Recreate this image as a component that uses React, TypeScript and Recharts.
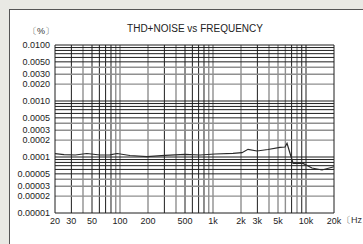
import { LineChart, Line, XAxis, YAxis, ReferenceLine } from "recharts";

const freqs = [
  20, 25, 33, 44, 61, 78, 93, 128, 195, 305, 500, 725, 1050, 1640, 2050, 2380,
  2970, 3900, 5250, 5950, 6250, 7250, 9290, 11600, 14860, 20000,
];
const thdn = [
  1.146e-4, 1.1e-4, 1.086e-4, 1.155e-4, 1.086e-4, 1.09e-4, 1.155e-4, 1.064e-4,
  1.012e-4, 1.073e-4, 1.117e-4, 1.086e-4, 1.132e-4, 1.164e-4, 1.194e-4,
  1.372e-4, 1.28e-4, 1.36e-4, 1.49e-4, 1.51e-4, 1.757e-4, 7.72e-5, 7.69e-5,
  6.37e-5, 5.86e-5, 6.71e-5,
];

const xTicks = [20, 30, 50, 100, 200, 500, 1000, 2000, 3000, 5000, 10000, 20000];
const xTickLabels = ["20", "30", "50", "100", "200", "500", "1k", "2k", "3k", "5k", "10k", "20k"];

const yTicks = [
  0.01, 0.005, 0.003, 0.002, 0.001, 0.0005, 0.0003, 0.0002, 0.0001, 0.00005,
  0.00003, 0.00002, 0.00001,
];
const yTickLabels = [
  "0.0100", "0.0050", "0.0030", "0.0020", "0.0010", "0.0005", "0.0003",
  "0.0002", "0.0001", "0.00005", "0.00003", "0.00002", "0.00001",
];

// grid lines: [value, gray?]
const xGrid: [number, boolean][] = [
  [30, false], [40, true], [50, false], [60, false], [70, false], [80, false], [90, true],
  [100, true], [200, true], [300, false], [400, true], [500, false], [600, false], [700, false], [800, false], [900, true],
  [1000, true], [2000, true], [3000, false], [4000, true], [5000, true], [6000, true], [7000, false], [8000, true], [9000, false],
  [10000, false],
];
const yGrid: [number, boolean][] = [
  [0.009, false], [0.008, false], [0.007, false], [0.006, false], [0.005, false], [0.004, true], [0.003, true], [0.002, true],
  [0.001, false], [0.0009, false], [0.0008, false], [0.0007, false], [0.0006, false], [0.0005, false], [0.0004, true], [0.0003, true], [0.0002, true],
  [0.0001, false], [0.00009, false], [0.00008, false], [0.00007, false], [0.00006, false], [0.00005, false], [0.00004, true], [0.00003, true], [0.00002, true],
];

const data = freqs.map((f, i) => ({ f, v: thdn[i] }));

const font = "'Liberation Sans', Arial, sans-serif";
const tick = { fontSize: 9, fill: "#222", fontFamily: font };

export default function App() {
  return (
    <div
      style={{
        position: "fixed",
        left: 0,
        top: 0,
        width: 363,
        height: 244,
        background: "#e9e9e4",
        overflow: "hidden",
        fontFamily: font,
      }}
    >
      <div
        style={{
          position: "absolute",
          left: 9,
          top: 9,
          width: 400,
          height: 300,
          background: "#fff",
          borderLeft: "1px solid #555",
          borderTop: "1px solid #555",
        }}
      />
      <div style={{ position: "absolute", left: 0, top: 0 }}>
        <LineChart
          width={363}
          height={244}
          data={data}
          margin={{ top: 45, right: 29, bottom: 11, left: 5 }}
        >
          {xGrid.map(([x, g]) => (
            <ReferenceLine
              key={"x" + x}
              x={x}
              stroke={g ? "#8f8f8f" : "#1e1e1e"}
              strokeWidth={g ? 1.4 : 1}
            />
          ))}
          {yGrid.map(([y, g]) => (
            <ReferenceLine
              key={"y" + y}
              y={y}
              stroke={g ? "#8f8f8f" : "#1e1e1e"}
              strokeWidth={g ? 1.4 : 1}
            />
          ))}
          <ReferenceLine y={0.01} stroke="#1e1e1e" />
          <ReferenceLine x={20000} stroke="#1e1e1e" />
          <XAxis
            dataKey="f"
            type="number"
            scale="log"
            domain={[20, 20000]}
            ticks={xTicks}
            tickFormatter={(v: number) => xTickLabels[xTicks.indexOf(v)] ?? ""}
            interval={0}
            allowDataOverflow
            height={20}
            tickSize={0}
            tickMargin={5}
            tick={tick}
            axisLine={{ stroke: "#1e1e1e" }}
          />
          <YAxis
            type="number"
            scale="log"
            domain={[0.00001, 0.01]}
            ticks={yTicks}
            tickFormatter={(v: number) => yTickLabels[yTicks.indexOf(v)] ?? ""}
            interval={0}
            allowDataOverflow
            width={50}
            tickSize={0}
            tickMargin={5}
            tick={tick}
            axisLine={{ stroke: "#1e1e1e" }}
          />
          <Line
            dataKey="v"
            type="linear"
            stroke="#2a2a2a"
            strokeWidth={1.2}
            dot={false}
            isAnimationActive={false}
          />
        </LineChart>
      </div>
      <div
        style={{
          position: "absolute",
          left: 0,
          width: 390,
          top: 23,
          textAlign: "center",
          fontSize: 10,
          color: "#222",
          lineHeight: "12px",
        }}
      >
        THD+NOISE vs FREQUENCY
      </div>
      <div style={{ position: "absolute", left: 28, top: 26, fontSize: 9, color: "#333", lineHeight: "11px" }}>
        〔%〕
      </div>
      <div style={{ position: "absolute", left: 342, top: 215, fontSize: 9, color: "#333", lineHeight: "11px", whiteSpace: "nowrap" }}>
        〔Hz〕
      </div>
    </div>
  );
}
